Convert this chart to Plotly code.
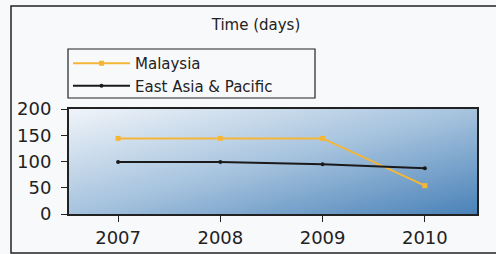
import base64
import plotly.graph_objects as go

years = ["2007", "2008", "2009", "2010"]
malaysia = [144, 144, 144, 54]
east_asia = [99, 99, 95, 87]
y_ticks = [0, 50, 100, 150, 200]

FONT = "DejaVu Sans"
PL, PR, PT, PB = 69, 477, 109, 214  # plot area in px
W, H = 496, 254


def px(x):
    return (x - PL) / (PR - PL)


def py(y):
    return (PB - y) / (PB - PT)


svg = (
    '<svg xmlns="http://www.w3.org/2000/svg" width="400" height="100" preserveAspectRatio="none" viewBox="0 0 400 100">'
    '<defs><linearGradient id="g" x1="0" y1="0" x2="1" y2="1">'
    '<stop offset="0" stop-color="#f0f4f9"/>'
    '<stop offset="0.5" stop-color="#a6c3de"/>'
    '<stop offset="1" stop-color="#4a82b8"/>'
    '</linearGradient></defs>'
    '<rect x="0" y="0" width="400" height="100" fill="url(#g)"/></svg>'
)
src = "data:image/svg+xml;base64," + base64.b64encode(svg.encode()).decode()

fig = go.Figure()
fig.add_trace(go.Scatter(
    x=years, y=malaysia, name="Malaysia", mode="lines+markers",
    line=dict(color="#f5b638", width=2),
    marker=dict(symbol="square", size=5, color="#f5b638"),
))
fig.add_trace(go.Scatter(
    x=years, y=east_asia, name="East Asia & Pacific", mode="lines+markers",
    line=dict(color="#1a1a1a", width=2),
    marker=dict(symbol="circle", size=4, color="#1a1a1a"),
))

fig.add_layout_image(dict(
    source=src, xref="paper", yref="paper", x=0, y=1, sizex=1, sizey=1,
    sizing="stretch", xanchor="left", yanchor="top", layer="below",
))

# outer frame (left, top, bottom edges; right edge lies off-page)
fig.add_shape(type="path", xref="paper", yref="paper",
              path=f"M {px(530)} {py(6)} L {px(11)} {py(6)} L {px(11)} {py(253)} L {px(530)} {py(253)}",
              line=dict(color="#222222", width=1.5), layer="below")
# legend box
fig.add_shape(type="rect", xref="paper", yref="paper",
              x0=px(68), x1=px(315), y0=py(98), y1=py(49),
              line=dict(color="#222222", width=1.2), fillcolor="#f8f9fb", layer="below")

fig.update_layout(
    width=W, height=H,
    margin=dict(l=PL, r=W - PR, t=PT, b=H - PB, autoexpand=False),
    paper_bgcolor="#f8f9fb",
    plot_bgcolor="rgba(0,0,0,0)",
    font=dict(family=FONT, color="#222222"),
    title=dict(text="Time (days)", x=256 / W, xref="container", xanchor="center",
               y=1 - 25 / H, yref="container", yanchor="middle",
               font=dict(family=FONT, size=15, color="#222222")),
    legend=dict(x=68 / W, y=1 - 47 / H, xref="container", yref="container",
                xanchor="left", yanchor="top",
                bgcolor="rgba(0,0,0,0)", borderwidth=0,
                font=dict(family=FONT, size=15, color="#222222"),
                itemwidth=57, tracegroupgap=0),
    showlegend=True,
)
fig.update_xaxes(
    type="category", range=[-0.48, 3.51], showgrid=False, automargin=False,
    showline=True, linecolor="#222222", linewidth=2, mirror=True,
    ticks="outside", ticklen=6, tickcolor="#222222",
    tickfont=dict(family=FONT, size=18, color="#222222"),
)
fig.update_yaxes(
    range=[0, 200], tickvals=y_ticks, showgrid=False, zeroline=False, automargin=False,
    showline=True, linecolor="#222222", linewidth=2, mirror=True,
    ticks="outside", ticklen=6, tickcolor="#222222", ticklabelstandoff=6,
    tickfont=dict(family=FONT, size=18, color="#222222"),
)

fig.write_html(
    "out.html",
    config={"displayModeBar": False},
    post_script="document.body.style.margin='0';document.body.style.overflow='hidden';",
)
